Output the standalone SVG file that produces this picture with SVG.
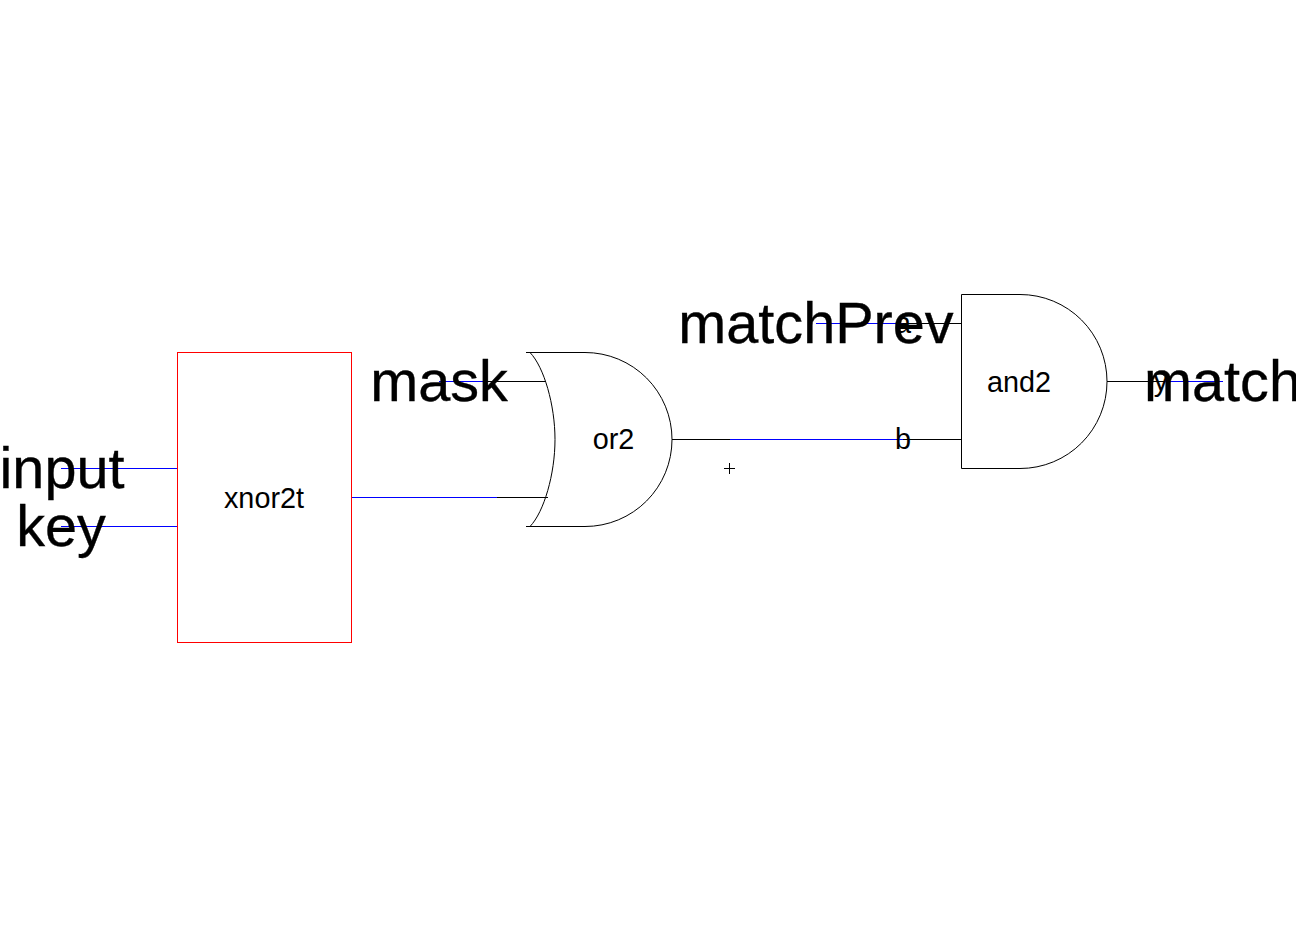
<svg xmlns="http://www.w3.org/2000/svg" width="1296" height="936" viewBox="0 0 1296 936">
<style>
text{font-family:"Liberation Sans",Arial,sans-serif;fill:#000;text-anchor:middle}
.big{font-size:57.6px;stroke:#000;stroke-width:.35}
.small{font-size:28.8px}
.shape{fill:none;stroke:#000;stroke-width:1}
.wire{fill:none;stroke-width:1;shape-rendering:crispEdges}
.b{stroke:#00f}
.k{stroke:#000}
</style>
<rect width="1296" height="936" fill="#fff"/>
<g id="connectors">
<path class="wire b" d="M61 468.5H177M61 526.5H177M352 497.5H497M439 381.5H483M730 439.5H903M816 323.5H903M1165 381.5H1223"/>
<path class="wire k" d="M497 497.5H548M483 381.5H546M672 439.5H730M903 439.5H961M903 323.5H961M1107 381.5H1165"/>
</g>
<g id="xnor2t">
<rect x="177.500" y="352.500" width="174" height="290" fill="none" stroke="#f00" stroke-width="1" shape-rendering="crispEdges"/>
<text class="small" x="264" y="507.500">xnor2t</text>
</g>
<g id="or2">
<path class="shape" d="M526 352.500H585A87 87 0 0 1 585 526.500H526M530 352.500C544 367 555 405 555 439.500C555 474 544 512 530 526.500"/>
<text class="small" x="613.500" y="449">or2</text>
</g>
<g id="and2">
<path class="shape" d="M961.500 294.500H1020A87 87 0 0 1 1020 468.500H961.500Z"/>
<text class="small" x="1019" y="391.500">and2</text>
<text class="small" x="903" y="333">a</text>
<text class="small" x="903" y="449">b</text>
<text class="small" x="1161" y="391">y</text>
</g>
<g id="label-input"><text class="big" x="62" y="488">input</text></g>
<g id="label-key"><text class="big" x="61" y="545.500">key</text></g>
<g id="label-mask"><text class="big" x="439" y="401">mask</text></g>
<g id="label-matchPrev"><text class="big" x="816" y="343">matchPrev</text></g>
<g id="label-match"><text class="big" x="1222.500" y="401">match</text></g>
<g id="origin"><path class="wire k" d="M724 468.500H735M729.500 463V474"/></g>
</svg>
